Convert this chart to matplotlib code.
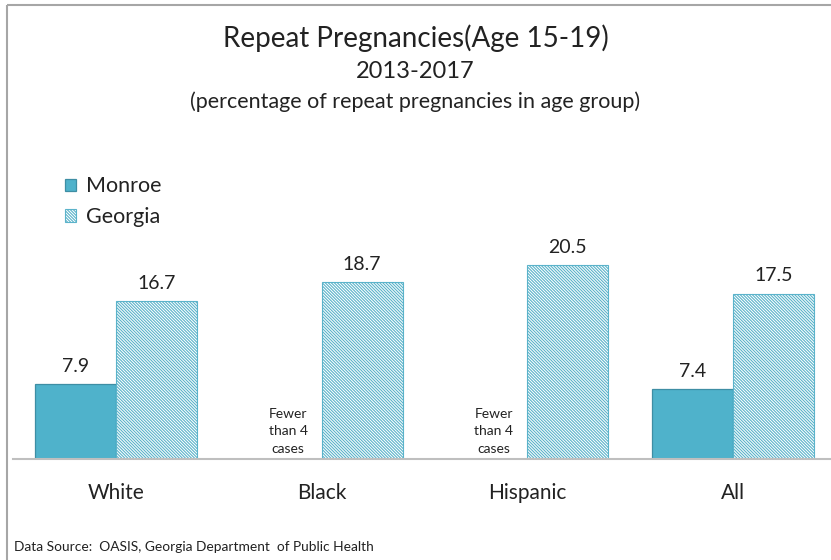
import matplotlib
matplotlib.use('Agg')
import matplotlib.pyplot as plt
import numpy as np
from matplotlib.patches import Rectangle

# data
categories = ['White', 'Black', 'Hispanic', 'All']
monroe = [7.9, None, None, 7.4]
georgia = [16.7, 18.7, 20.5, 17.5]
suppressed_note = 'Fewer\nthan 4\ncases'

plt.rcParams['font.family'] = ['Lato', 'DejaVu Sans']
plt.rcParams['hatch.linewidth'] = 0.8

W, H = 831, 560
fig = plt.figure(figsize=(W / 100, H / 100), dpi=100)

# outer grey frame (right/bottom sides are cropped in the original)
fig.patches.append(Rectangle((7 / W, 1 - 5 / H), 1.2, -1.2, transform=fig.transFigure,
                             fill=False, edgecolor='#A6A6A6', linewidth=1.5))

ax = fig.add_axes([13 / W, 1 - 459 / H, 4 * 205.7 / W, 208 / H])
ax.set_xlim(-0.5, 3.5)
ax.set_ylim(0, 22)

x = np.arange(len(categories))
bw = 0.394
solid = '#4FB2CB'

m_vals = [v if v is not None else 0 for v in monroe]
m_bars = ax.bar(x - bw / 2, m_vals, bw, color=solid, edgecolor='#3E8EA4', linewidth=0.9,
                label='Monroe')
g_bars = ax.bar(x + bw / 2, georgia, bw, color='white', edgecolor='#5BB3CA', linewidth=0.8,
                hatch='\\' * 11, label='Georgia')

for i, v in enumerate(monroe):
    if v is None:
        m_bars[i].set_visible(False)
        ax.text(x[i] - bw / 2 + 0.035, 0.45, suppressed_note, ha='center', va='bottom',
                fontsize=10, linespacing=1.55, color='#222222')
    else:
        ax.text(x[i] - bw / 2, v + 1.0, f'{v:.1f}', ha='center', va='bottom',
                fontsize=14, color='#222222')
for i, v in enumerate(georgia):
    ax.text(x[i] + bw / 2, v + 1.0, f'{v:.1f}', ha='center', va='bottom',
            fontsize=14, color='#222222')

for s in ['top', 'right', 'left']:
    ax.spines[s].set_visible(False)
ax.spines['bottom'].set_color('#BFBFBF')
ax.spines['bottom'].set_linewidth(1.5)
ax.set_yticks([])
ax.set_xticks(x)
ax.set_xticklabels(categories, fontsize=15, color='#222222')
ax.tick_params(axis='x', length=0, pad=17)

fig.text(0.5, 1 - 38 / H, 'Repeat Pregnancies(Age 15-19)', ha='center', va='center',
         fontsize=20, color='#222222')
fig.text(0.5, 1 - 71 / H, '2013-2017', ha='center', va='center', fontsize=17, color='#222222')
fig.text(0.5, 1 - 102 / H, '(percentage of repeat pregnancies in age group)', ha='center',
         va='center', fontsize=15.5, color='#222222')

fig.legend(handles=[m_bars, g_bars], labels=['Monroe', 'Georgia'], loc='upper left',
           bbox_to_anchor=(46 / W, 1 - 157 / H), frameon=False, fontsize=15.5,
           handlelength=0.5, handleheight=0.5, handletextpad=0.45, labelspacing=0.5,
           labelcolor='#222222')

fig.text(14 / W, 1 - 547 / H, 'Data Source:  OASIS, Georgia Department  of Public Health',
         ha='left', va='center', fontsize=9.9, color='#222222')

fig.savefig('out.png', dpi=100)
